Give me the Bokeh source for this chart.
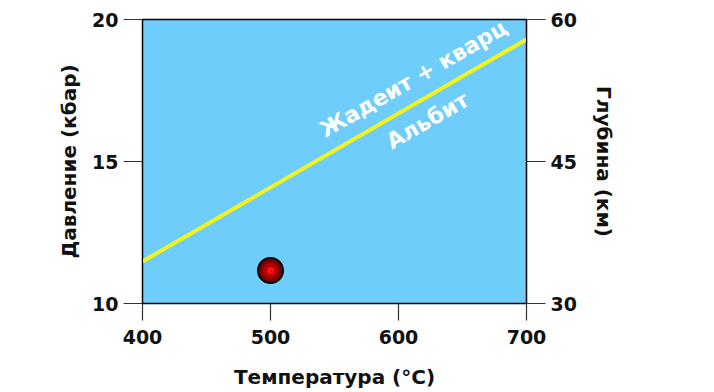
from bokeh.plotting import figure
from bokeh.models import Range1d, LinearAxis, FixedTicker, Label
from bokeh.embed import file_html
from bokeh.resources import INLINE
import math

# data
temp_line = [400, 700]
press_line = [11.48, 19.3]
sample_t = [500]
sample_p = [11.16]
x_ticks = [400, 500, 600, 700]
y_ticks = [10, 15, 20]
depth_ticks = [30, 45, 60]
label_upper = "Жадеит + кварц"
label_lower = "Альбит"
upper_pos = (611.7, 17.92)
lower_pos = (622.7, 16.44)

FONT = "DejaVu Sans"

p = figure(width=714, height=392, x_range=Range1d(400, 700), y_range=Range1d(10, 20),
           output_backend="svg", toolbar_location=None,
           min_border_left=142, min_border_top=19, min_border_right=188, min_border_bottom=89)
p.extra_y_ranges = {"depth": Range1d(30, 60)}
p.background_fill_color = "#6ECDFA"
p.outline_line_color = "black"
p.outline_line_width = 1.5
p.xgrid.visible = False
p.ygrid.visible = False

right = LinearAxis(y_range_name="depth")
p.add_layout(right, "right")

p.xaxis.ticker = FixedTicker(ticks=x_ticks)
p.yaxis[0].ticker = FixedTicker(ticks=y_ticks)
right.ticker = FixedTicker(ticks=depth_ticks)

p.xaxis.axis_label = "Температура (°C)"
p.yaxis[0].axis_label = "Давление (кбар)"
right.axis_label = "Глубина (км)"

for ax in [p.xaxis[0], p.yaxis[0], right]:
    ax.major_tick_out = 19
    ax.major_tick_in = 0
    ax.minor_tick_line_color = None
    ax.major_tick_line_color = "#333333"
    ax.major_tick_line_width = 1.2
    ax.axis_line_color = "black"
    ax.major_label_text_font = FONT
    ax.major_label_text_font_style = "bold"
    ax.major_label_text_font_size = "19px"
    ax.major_label_text_color = "#111111"
    ax.axis_label_text_font = FONT
    ax.axis_label_text_font_style = "bold"
    ax.axis_label_text_font_size = "20px"
    ax.axis_label_text_color = "#111111"
    ax.major_label_standoff = 5

p.xaxis.major_tick_out = 17
p.xaxis.major_label_standoff = 9
p.xaxis.axis_label_standoff = 18
p.yaxis[0].axis_label_standoff = 8
right.axis_label_standoff = 12

p.line(temp_line, press_line, line_color="#F2F21E", line_width=4)

p.scatter(sample_t, sample_p, size=25, fill_color="#7A0000", line_color="black", line_width=2)
p.scatter(sample_t, sample_p, size=15, fill_color="#C00000", line_color=None)
p.scatter(sample_t, sample_p, size=7, fill_color="#FF1010", line_color=None)

ang = math.radians(30)
for txt, pos in [(label_upper, upper_pos), (label_lower, lower_pos)]:
    p.add_layout(Label(x=pos[0], y=pos[1], text=txt, angle=ang, text_align="center",
                       text_baseline="middle", text_color="white", text_font=FONT,
                       text_font_style="bold", text_font_size="22px"))

open("out.html", "w").write(file_html(p, INLINE))
